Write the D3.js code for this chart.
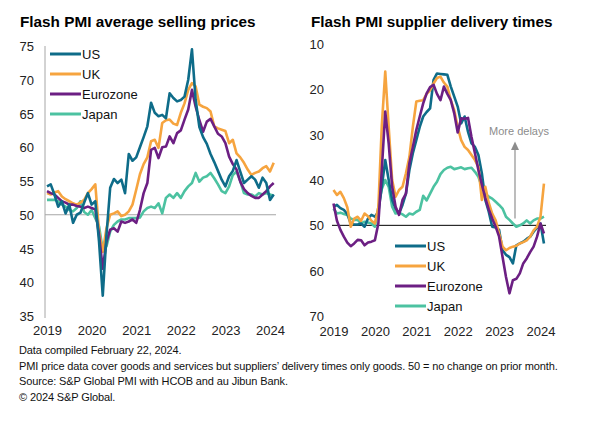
<!DOCTYPE html>
<html><head><meta charset="utf-8">
<script src="https://cdn.jsdelivr.net/npm/d3@7"></script>
<style>
html,body{margin:0;padding:0;background:#fff;}
svg{display:block;font-family:"Liberation Sans",Arial,sans-serif;}
</style></head>
<body><svg id="c" width="589" height="428"></svg>
<script>
// ---- data: monthly Jan 2019 .. Feb 2024 ----
const startYear = 2019;
const yearTicks = [2019, 2020, 2021, 2022, 2023, 2024];
const seriesNames = ["US", "UK", "Eurozone", "Japan"];
const seriesColors = ["#0e6c89", "#f6a43f", "#6c1f83", "#4cc2a1"];

// Average selling prices
const pricesUS = [54.2,54.5,53.0,51.2,52.0,50.2,51.5,48.8,50.0,50.3,51.8,53.2,
  51.5,52.0,46.0,38.0,47.0,54.0,55.3,54.7,55.2,53.2,59.0,58.0,
  58.5,60.0,61.5,63.1,66.6,65.1,64.6,64.8,64.3,68.0,67.3,66.8,
  67.0,67.5,70.0,74.5,67.0,63.0,61.5,60.5,59.0,57.8,56.5,55.2,
  54.2,55.7,56.5,58.1,56.4,54.7,55.2,55.7,55.2,54.0,55.5,54.7,
  52.2,53.0];
const pricesUK = [53.2,53.0,53.3,53.5,52.7,52.3,52.0,51.7,51.5,51.8,52.2,53.2,
  53.8,54.5,47.5,44.5,48.0,50.0,50.2,50.5,49.8,50.0,50.5,51.5,
  53.7,56.0,57.5,58.5,60.9,61.1,59.9,63.6,64.0,64.1,63.5,63.3,
  65.1,66.5,68.5,69.5,69.0,66.3,66.0,65.8,65.3,63.1,62.8,62.6,
  62.4,60.6,61.1,59.1,58.5,57.7,56.7,55.9,56.2,56.4,56.9,57.2,
  56.4,57.7];
const pricesEZ = [53.5,53.2,53.0,52.5,52.0,51.8,51.5,51.5,51.3,51.2,51.0,51.2,
  51.0,50.8,47.0,42.0,46.0,47.8,48.0,47.5,49.0,48.8,49.0,49.3,
  48.8,50.7,53.2,54.7,59.6,59.9,58.4,60.0,60.1,61.6,60.6,62.1,
  62.5,64.1,65.6,68.5,66.0,64.0,62.3,63.8,64.2,63.1,62.0,61.6,
  60.6,58.6,57.5,56.7,54.9,53.8,53.2,52.8,52.5,52.5,53.0,53.5,
  54.2,54.7];
const pricesJP = [52.2,52.2,52.2,52.0,51.5,51.2,50.7,50.5,51.0,52.0,50.4,50.0,
  50.7,49.5,48.3,44.8,45.3,47.5,48.5,49.0,49.3,49.3,49.5,49.5,
  49.5,49.6,50.5,51.0,51.2,51.0,51.7,50.2,52.5,53.0,52.5,53.2,
  52.5,53.5,54.2,54.7,56.2,54.9,55.5,55.7,56.2,55.4,54.5,53.5,
  53.2,54.2,55.9,56.4,55.0,53.2,53.0,53.0,52.7,53.2,53.0,53.2,
  53.0,52.8];

// Supplier delivery times (inverted axis)
const deliveryUS = [45.9,45.5,46.2,46.6,47.5,49.6,49.8,49.8,49.6,50.3,48.5,47.7,
  48.1,47.0,41.5,35.6,40.0,44.4,46.3,47.4,45.5,43.0,37.8,34.1,
  31.2,28.3,26.0,25.0,24.2,17.9,16.5,16.6,16.7,16.8,19.4,21.6,
  23.8,27.5,26.0,29.4,31.9,32.7,34.5,38.5,44.4,47.0,50.3,50.5,
  51.0,55.5,56.5,57.0,58.4,54.4,54.0,53.6,53.0,52.5,51.4,50.5,
  49.6,54.0];
const deliveryUK = [42.2,43.3,42.6,44.0,46.0,50.3,48.5,48.1,49.0,47.4,48.0,49.0,
  49.6,46.0,28.0,16.1,28.3,40.0,43.7,42.2,41.5,38.5,34.9,28.3,
  22.7,22.5,22.4,21.0,20.2,18.7,17.5,17.2,18.5,19.4,22.4,24.6,
  28.3,31.2,32.7,33.4,34.5,35.6,37.1,44.4,41.5,45.0,47.4,48.9,
  51.8,54.7,55.5,55.0,54.7,54.5,54.0,53.7,53.3,52.5,51.1,50.3,
  48.1,40.8];
const deliveryEZ = [45.2,49.0,51.0,52.5,53.8,54.6,54.0,53.2,53.3,54.4,53.8,53.6,
  53.3,49.6,37.8,24.9,32.0,41.5,45.9,47.7,44.4,43.0,36.3,32.7,
  29.0,26.0,23.1,20.9,19.5,19.0,21.0,22.4,19.4,21.0,22.4,25.3,
  29.5,26.4,26.5,26.3,30.5,34.1,37.8,41.0,44.0,46.5,48.5,50.3,
  52.5,57.0,61.4,65.0,62.1,61.8,60.6,58.4,57.3,55.9,54.7,52.5,
  49.6,51.8];
const deliveryJP = [46.3,47.4,47.2,47.5,47.7,48.5,48.8,48.8,49.6,49.2,49.4,49.6,
  50.3,46.0,42.0,40.0,41.5,45.9,47.4,47.2,47.6,48.1,47.4,47.6,
  47.0,46.6,43.5,44.5,43.0,41.5,40.4,38.7,37.8,37.3,37.1,37.6,
  37.4,37.2,37.6,37.4,37.3,38.2,39.3,41.5,43.0,43.7,44.1,44.8,
  45.5,46.3,48.1,48.8,49.6,50.3,50.0,49.6,48.9,49.6,48.9,48.5,
  48.5,48.1];

const priceTicks = [35, 40, 45, 50, 55, 60, 65, 70, 75];
const deliveryTicks = [10, 20, 30, 40, 50, 60, 70];

const titles = ["Flash PMI average selling prices", "Flash PMI supplier delivery times"];
const footnotes = [
  "Data compiled February 22, 2024.",
  "PMI price data cover goods and services but suppliers\u2019 delivery times only goods. 50 = no change on prior month.",
  "Source: S&P Global PMI with HCOB and au Jibun Bank.",
  "\u00a9 2024 S&P Global."
];
const arrowLabel = "More delays";

// ---- drawing ----
const svg = d3.select("#c");

function drawPanel(opt) {
  const g = svg.append("g");
  const x = d3.scaleLinear().domain([0, 12 * (yearTicks.length - 1)])
    .range([opt.x0, opt.x0 + opt.yearW * (yearTicks.length - 1)]);
  const y = d3.scaleLinear().domain(opt.yDomain).range(opt.yRange);

  // title
  g.append("text").attr("x", opt.titleX).attr("y", 27)
    .attr("font-size", 15.3).attr("font-weight", "bold").attr("fill", "#000")
    .text(opt.title);

  // y axis
  const ya = d3.axisLeft(y).tickValues(opt.yTicks).tickSize(0).tickPadding(0);
  const yg = g.append("g").attr("transform", `translate(${opt.yLabelX},0)`).call(ya);
  yg.select(".domain").remove();
  yg.selectAll("text").attr("font-size", 13).attr("fill", "#222")
    .attr("font-family", "Liberation Sans, Arial, sans-serif").attr("dy", "0.35em");

  // x axis labels
  const xa = d3.axisBottom(x).tickValues(yearTicks.map((d, i) => i * 12))
    .tickFormat((d) => String(startYear + d / 12)).tickSize(0).tickPadding(0);
  const xg = g.append("g").attr("transform", `translate(0,${opt.xLabelY})`).call(xa);
  xg.select(".domain").remove();
  xg.selectAll("text").attr("font-size", 13).attr("fill", "#222")
    .attr("font-family", "Liberation Sans, Arial, sans-serif").attr("dy", 0);

  if (opt.axisLine) {
    g.append("line").attr("x1", opt.axisLine.x).attr("x2", opt.axisLine.x)
      .attr("y1", y(opt.yDomain[1])).attr("y2", opt.axisLine.y2)
      .attr("stroke", "#a6a6a6").attr("stroke-width", 1);
  }
  // reference line at 50
  g.append("line").attr("x1", opt.refX1).attr("x2", opt.refX2)
    .attr("y1", y(50)).attr("y2", y(50))
    .attr("stroke", opt.refColor).attr("stroke-width", 1);

  const line = d3.line().x((d, i) => x(i)).y((d) => y(d));
  opt.order.forEach((k) => {
    g.append("path").datum(opt.data[k]).attr("d", line)
      .attr("fill", "none").attr("stroke", seriesColors[k])
      .attr("stroke-width", 2.6).attr("stroke-linejoin", "round");
  });

  // legend
  seriesNames.forEach((name, k) => {
    const ly = opt.legY + k * 20;
    g.append("line").attr("x1", opt.legX).attr("x2", opt.legX + 31)
      .attr("y1", ly).attr("y2", ly)
      .attr("stroke", seriesColors[k]).attr("stroke-width", 3);
    g.append("text").attr("x", opt.legX + 32).attr("y", ly + 4.6)
      .attr("font-size", 13).attr("fill", "#111").text(name);
  });
  return { x, y, g };
}

drawPanel({
  title: titles[0], titleX: 20,
  x0: 47, yearW: 44.6,
  yDomain: [35, 75], yRange: [316, 46], yTicks: priceTicks,
  yLabelX: 34, xLabelY: 335,
  axisLine: { x: 45, y2: 318 },
  refX1: 45, refX2: 276, refColor: "#a6a6a6",
  data: [pricesUS, pricesUK, pricesEZ, pricesJP],
  order: [3, 1, 2, 0],
  legX: 50, legY: 54
});

const right = drawPanel({
  title: titles[1], titleX: 311,
  x0: 333.5, yearW: 41.4,
  yDomain: [10, 70], yRange: [44, 316], yTicks: deliveryTicks,
  yLabelX: 324, xLabelY: 336,
  axisLine: null,
  refX1: 332, refX2: 546, refColor: "#000",
  data: [deliveryUS, deliveryUK, deliveryEZ, deliveryJP],
  order: [3, 0, 1, 2],
  legX: 395, legY: 246
});

// "More delays" arrow on the right panel
const ax = 515;
right.g.append("line").attr("x1", ax).attr("x2", ax)
  .attr("y1", right.y(48.5)).attr("y2", 149)
  .attr("stroke", "#999").attr("stroke-width", 1.3);
right.g.append("path")
  .attr("d", `M${ax - 4},150 L${ax + 4},150 L${ax},141.5 Z`)
  .attr("fill", "#8c8c8c");
right.g.append("text").attr("x", 519).attr("y", 135)
  .attr("text-anchor", "middle").attr("font-size", 11).attr("fill", "#8c8c8c")
  .text(arrowLabel);

// footnotes
footnotes.forEach((t, i) => {
  svg.append("text").attr("x", 19).attr("y", 354 + i * 15.6)
    .attr("font-size", 11).attr("fill", "#111").attr("letter-spacing", -0.12)
    .text(t);
});
</script></body></html>
